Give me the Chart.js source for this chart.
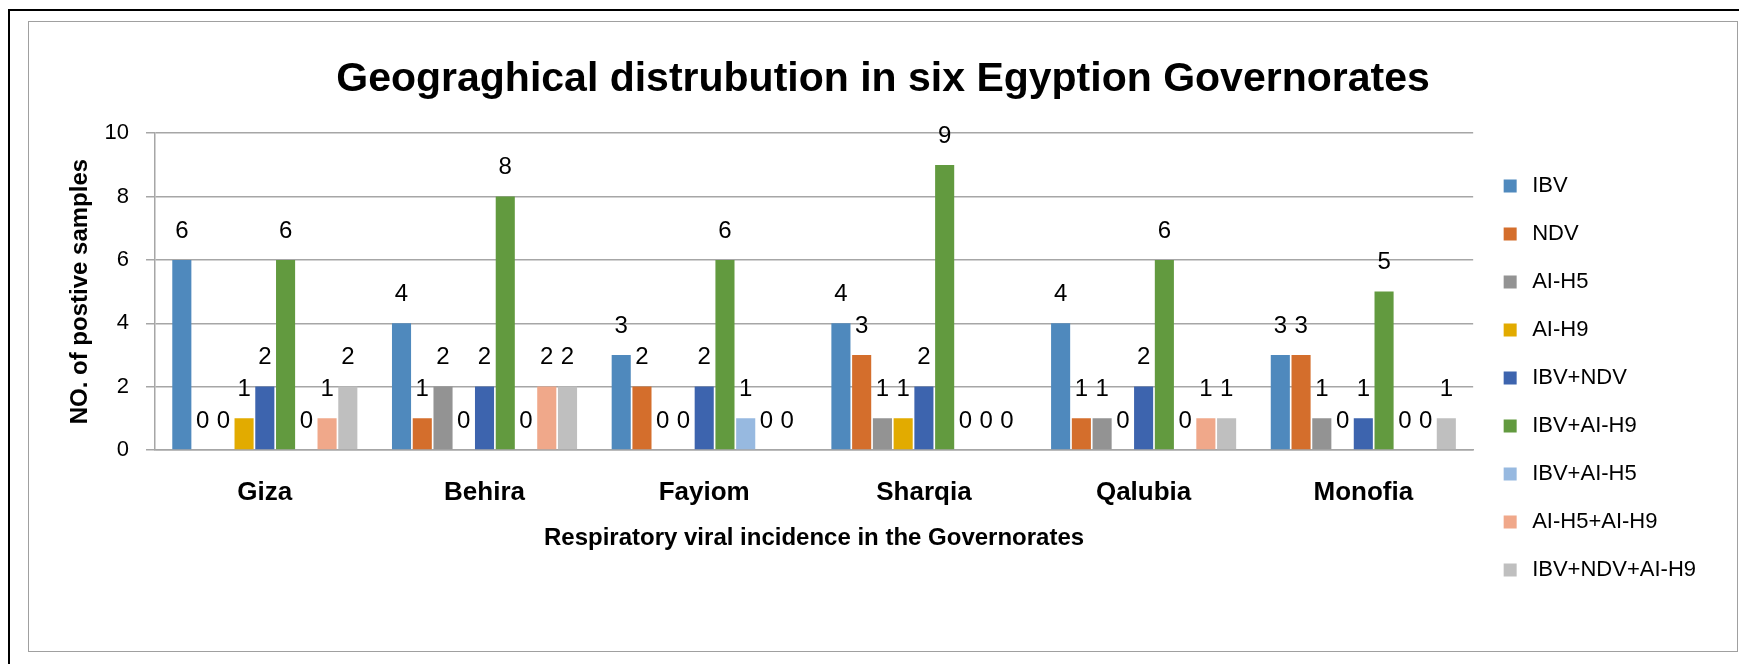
<!DOCTYPE html>
<html lang="en">
<head>
  <meta charset="UTF-8">
  <title>Geograghical distrubution</title>
  <script src="https://cdn.jsdelivr.net/npm/chart.js"></script>
  <style>
    html, body { margin: 0; padding: 0; background: #fff; overflow: hidden; }
    #outer { position: absolute; left: 8px; top: 9px; width: 1800px; height: 700px;
             border-left: 2px solid #000; border-top: 2px solid #000; }
    #inner { position: absolute; left: 28px; top: 21px; width: 1708px; height: 629px;
             border: 1px solid #a0a0a0; }
    #box { position: absolute; left: 0; top: 0; width: 1739px; height: 664px; }
  </style>
</head>
<body>
  <div id="outer"></div>
  <div id="inner"></div>
  <div id="box"><canvas id="grafico"></canvas></div>

  <script>
    const governorates = ['Giza', 'Behira', 'Fayiom', 'Sharqia', 'Qalubia', 'Monofia'];
    const seriesNames = ['IBV', 'NDV', 'AI-H5', 'AI-H9', 'IBV+NDV', 'IBV+AI-H9', 'IBV+AI-H5', 'AI-H5+AI-H9', 'IBV+NDV+AI-H9'];
    const ibv        = [6, 4, 3, 4, 4, 3];
    const ndv        = [0, 1, 2, 3, 1, 3];
    const aiH5       = [0, 2, 0, 1, 1, 1];
    const aiH9       = [1, 0, 0, 1, 0, 0];
    const ibvNdv     = [2, 2, 2, 2, 2, 1];
    const ibvAiH9    = [6, 8, 6, 9, 6, 5];
    const ibvAiH5    = [0, 0, 1, 0, 0, 0];
    const aiH5AiH9   = [1, 2, 0, 0, 1, 0];
    const ibvNdvAiH9 = [2, 2, 0, 0, 1, 1];
    const yMax = 10;
    const yStep = 2;

    const colors = ['#4f89bd', '#d46e2c', '#939393', '#e2ab00', '#3d64ae', '#629a3f', '#97b9e0', '#f0a88a', '#bfbfbf'];
    const values = [ibv, ndv, aiH5, aiH9, ibvNdv, ibvAiH9, ibvAiH5, aiH5AiH9, ibvNdvAiH9];

    const fontName = '"Liberation Sans", Arial, sans-serif';
    Chart.defaults.font.family = fontName;
    Chart.defaults.color = '#000';

    // numbers above the bars
    const valueLabels = {
      id: 'valueLabels',
      afterDatasetsDraw(chart) {
        const ctx = chart.ctx;
        ctx.save();
        ctx.font = '24px ' + fontName;
        ctx.fillStyle = '#000';
        ctx.textAlign = 'center';
        ctx.textBaseline = 'middle';
        chart.data.datasets.forEach((ds, i) => {
          chart.getDatasetMeta(i).data.forEach((bar, j) => {
            ctx.fillText(String(ds.data[j]), bar.x, bar.y - 29);
          });
        });
        ctx.restore();
      }
    };

    const grafico = new Chart(document.getElementById('grafico'), {
      type: 'bar',
      data: {
        labels: governorates,
        datasets: seriesNames.map((name, i) => ({
          label: name,
          data: values[i],
          backgroundColor: colors[i],
          borderWidth: 0,
          categoryPercentage: 0.85,
          barPercentage: 0.92
        }))
      },
      options: {
        responsive: true,
        maintainAspectRatio: false,
        animation: false,
        layout: { padding: { left: 60, right: 33, top: 30, bottom: 57 } },
        plugins: {
          title: {
            display: true,
            text: 'Geograghical distrubution in six Egyption Governorates',
            font: { size: 41, weight: 'bold' },
            color: '#000',
            padding: { top: 25, bottom: 29 }
          },
          legend: {
            position: 'right',
            align: 'end',
            labels: {
              usePointStyle: true,
              pointStyle: 'rect',
              boxWidth: 22,
              boxHeight: 13,
              padding: 26,
              font: { size: 22 },
              color: '#000'
            }
          },
          tooltip: { enabled: false }
        },
        scales: {
          x: {
            grid: { display: false, drawTicks: false },
            border: { color: '#a6a6a6', width: 1.5 },
            ticks: { font: { size: 26, weight: 'bold', lineHeight: 2.54 }, color: '#000', padding: 10 },
            title: {
              display: true,
              text: 'Respiratory viral incidence in the Governorates',
              font: { size: 24, weight: 'bold', lineHeight: 0.1 },
              color: '#000',
              padding: { top: 1, bottom: 67.6 }
            }
          },
          y: {
            min: 0,
            max: yMax,
            grid: { color: '#a6a6a6', lineWidth: 1.5, tickLength: 9 },
            border: { color: '#a6a6a6', width: 1.5 },
            ticks: { stepSize: yStep, font: { size: 22 }, color: '#000', padding: 17 },
            title: {
              display: true,
              text: 'NO. of postive samples',
              font: { size: 24, weight: 'bold', lineHeight: 0.5 },
              color: '#000',
              padding: { top: 14, bottom: 1.5 }
            }
          }
        }
      },
      plugins: [valueLabels]
    });
  </script>
</body>
</html>
